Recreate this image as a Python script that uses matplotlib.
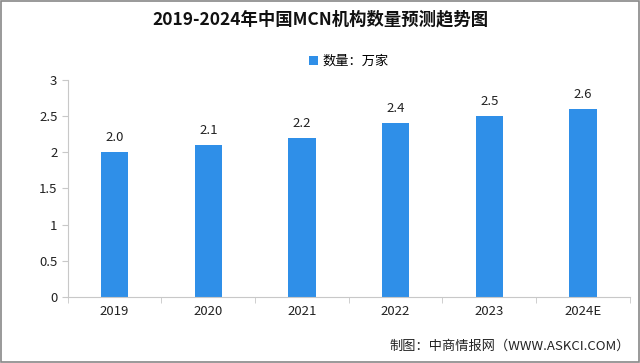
import matplotlib.pyplot as plt
from matplotlib.patches import Rectangle

plt.rcParams['font.family'] = ['Noto Sans CJK SC', 'DejaVu Sans']

years = ["2019", "2020", "2021", "2022", "2023", "2024E"]
counts = [2.0, 2.1, 2.2, 2.4, 2.5, 2.6]
bar_color = "#2f8fe8"

fig = plt.figure(figsize=(6.4, 3.63), dpi=100)
ax = fig.add_axes([0.106, 0.182, 0.878, 0.598])

x = range(len(years))
bars = ax.bar(x, counts, width=0.29, color=bar_color, label="数量：万家")
for xi, v in zip(x, counts):
    ax.text(xi, v + 0.11, f"{v:.1f}", ha="center", va="bottom", fontsize=9.5, color="#222222")

ax.set_xlim(-0.5, len(years) - 0.5)
ax.set_ylim(0, 3)
ax.set_yticks([0, 0.5, 1, 1.5, 2, 2.5, 3])
ax.set_yticklabels(["0", "0.5", "1", "1.5", "2", "2.5", "3"])
ax.set_xticks(list(x))
ax.set_xticklabels(years)
ax.set_xticks([i + 0.5 for i in range(-1, len(years))], minor=True)
ax.tick_params(axis="x", which="major", length=0, labelsize=9.5, pad=6, colors="#222222")
ax.tick_params(axis="x", which="minor", length=4, color="#c8c8c8")
ax.tick_params(axis="y", length=4, color="#c8c8c8", labelsize=9.5, colors="#222222")
for s in ["top", "right"]:
    ax.spines[s].set_visible(False)
ax.spines["left"].set_color("#c8c8c8")
ax.spines["bottom"].set_color("#c8c8c8")

fig.text(0.5, 0.945, "2019-2024年中国MCN机构数量预测趋势图", ha="center", va="center",
         fontsize=12.5, fontweight="bold", color="#111111")
ax.legend(loc="center", bbox_to_anchor=(0.5, 1.085), frameon=False, fontsize=9.5,
          handlelength=0.7, handleheight=0.7, handletextpad=0.3)
fig.text(0.985, 0.045, "制图：中商情报网（WWW.ASKCI.COM）", ha="right", va="center",
         fontsize=9.5, color="#222222")

fig.patches.append(Rectangle((0.002, 0.003), 0.996, 0.994, transform=fig.transFigure,
                             fill=False, edgecolor="#888888", linewidth=1.2))

fig.savefig("out.png", dpi=100)
